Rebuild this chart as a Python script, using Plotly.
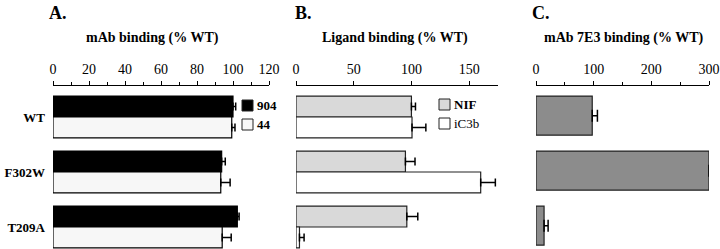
import plotly.graph_objects as go

categories = ["WT", "F302W", "T209A"]

# Panel A: mAb binding (% WT)
a_904 = [100, 93.7, 102.4]
a_904_err = [1.5, 2.0, 1.0]
a_44 = [99.3, 93.2, 94.0]
a_44_err = [1.8, 5.2, 5.0]

# Panel B: Ligand binding (% WT)
b_nif = [100, 94.8, 96.0]
b_nif_err = [3.5, 8.3, 9.5]
b_ic3b = [100.5, 160.0, 3.0]
b_ic3b_err = [12.0, 12.7, 4.0]

# Panel C: mAb 7E3 binding (% WT)
c_7e3 = [97.5, 300.0, 14.0]
c_7e3_err = [9.0, 9.0, 7.0]

SERIF = "Liberation Serif"
W, H = 720, 249

def px_x(p):
    return p / W

def px_y(p):
    return 1 - p / H

fig = go.Figure()

def bar(x, err, color, xa, ya, offset, width, lc="black", cap=4):
    return go.Bar(
        y=categories, x=x, orientation="h",
        xaxis=xa, yaxis=ya,
        marker=dict(color=color, line=dict(color=lc, width=1.2)),
        offset=offset, width=width,
        error_x=dict(type="data", array=err, arrayminus=[0] * len(err),
                     symmetric=False, color="black", thickness=1.5, width=cap),
        showlegend=False,
    )

fig.add_trace(bar(a_904, a_904_err, "#000000", "x", "y", -0.38, 0.38))
fig.add_trace(bar(a_44, a_44_err, "#f7f7f7", "x", "y", 0.0, 0.38))
fig.add_trace(bar(b_nif, b_nif_err, "#d9d9d9", "x2", "y2", -0.38, 0.38, "#222"))
fig.add_trace(bar(b_ic3b, b_ic3b_err, "#ffffff", "x2", "y2", 0.0, 0.38, "#222"))
fig.add_trace(bar(c_7e3, c_7e3_err, "#8c8c8c", "x3", "y3", -0.38, 0.71, "#222", cap=6))

ydom = [0, px_y(86)]
yrange = [2.4, -0.564]

def xaxis(dom, rng, dtick, minor_dtick):
    d = dict(domain=dom, range=rng, side="top", showgrid=False, zeroline=False,
             showline=True, linecolor="black", linewidth=1.2,
             ticks="outside", ticklen=4, tickwidth=1.2, tickcolor="black",
             dtick=dtick, tick0=0, automargin=False,
             tickfont=dict(family=SERIF, size=14, color="black"),
             ticklabelstandoff=1)
    if minor_dtick:
        d["minor"] = dict(dtick=minor_dtick, tick0=0, ticks="outside", ticklen=3,
                          tickwidth=1.2, tickcolor="black", showgrid=False)
    return d

def yaxis(anchor, labels):
    return dict(domain=ydom, range=yrange, anchor=anchor, showgrid=False,
                zeroline=False, showline=False, ticks="", automargin=False,
                showticklabels=labels,
                tickmode="array", tickvals=categories,
                ticktext=["<b>%s</b>" % c for c in categories],
                tickfont=dict(family=SERIF, size=13, color="black"),
                ticklabelstandoff=7)

fig.update_layout(
    width=W, height=H,
    margin=dict(l=0, r=0, t=0, b=0),
    paper_bgcolor="white", plot_bgcolor="white",
    xaxis=dict(xaxis(dom=[px_x(53), px_x(269)], rng=[0, 120], dtick=20, minor_dtick=10), anchor="y"),
    xaxis2=dict(xaxis(dom=[px_x(296), px_x(498)], rng=[0, 175], dtick=50, minor_dtick=None), anchor="y2"),
    xaxis3=dict(xaxis(dom=[px_x(536), px_x(709)], rng=[0, 300], dtick=100, minor_dtick=50), anchor="y3"),
    yaxis=yaxis("x", True),
    yaxis2=yaxis("x2", False),
    yaxis3=yaxis("x3", False),
)

def note(text, x, y, size, xanchor="center", bold=True):
    fig.add_annotation(
        text=("<b>%s</b>" % text) if bold else text,
        x=px_x(x), y=px_y(y), xref="paper", yref="paper",
        xanchor=xanchor, yanchor="middle", showarrow=False,
        font=dict(family=SERIF, size=size, color="black"),
    )

note("A.", 47, 13, 18, "left")
note("B.", 293, 13, 18, "left")
note("C.", 530, 13, 18, "left")
note("mAb binding (% WT)", 152, 38, 14)
note("Ligand binding (% WT)", 395, 38, 14)
note("mAb 7E3 binding (% WT)", 624, 38, 14)

# legends
def legend_item(x0, y0, color, label, bold=True):
    fig.add_shape(type="rect", xref="paper", yref="paper",
                  x0=px_x(x0), x1=px_x(x0 + 11), y0=px_y(y0 + 11), y1=px_y(y0),
                  fillcolor=color, line=dict(color="#222", width=1))
    note(label, x0 + 13, y0 + 5.5, 13, "left", bold)

legend_item(242, 100, "#000000", "904")
legend_item(242, 119, "#f7f7f7", "44")
legend_item(439, 99, "#d9d9d9", "NIF")
legend_item(439, 118, "#ffffff", "iC3b", bold=False)

fig.write_html("out.html", config={"displayModeBar": False},
               post_script="document.body.style.margin='0';document.body.style.overflow='hidden';")
